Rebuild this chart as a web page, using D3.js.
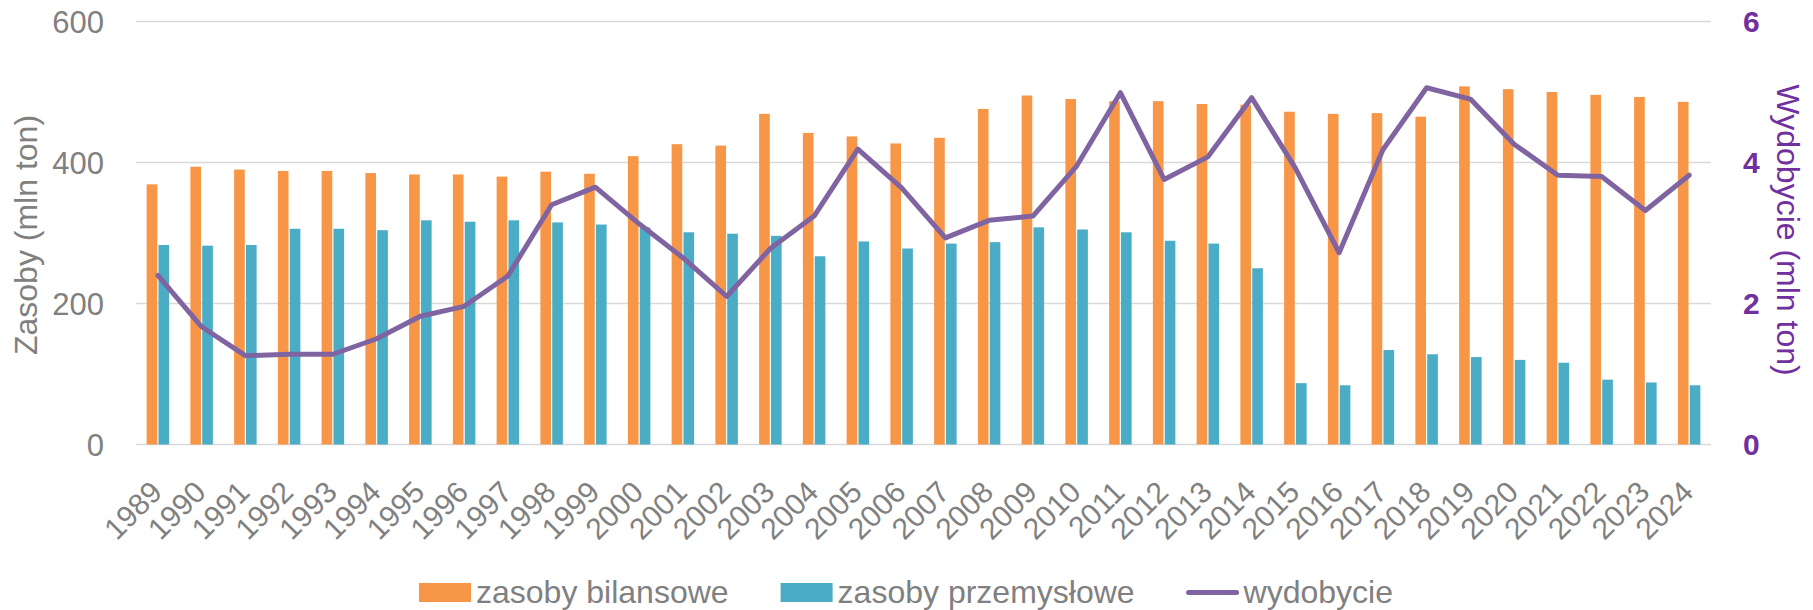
<!DOCTYPE html>
<html>
<head>
<meta charset="utf-8">
<title>Zasoby i wydobycie</title>
<style>
    body { margin: 0; background: #fff; }
    text { font-family: "Liberation Sans", Arial, sans-serif; }
</style>
</head>
<body>
<script src="https://cdn.jsdelivr.net/npm/d3@7"></script>
<script>
    // dane
    var years = ["1989","1990","1991","1992","1993","1994","1995","1996","1997","1998","1999",
                 "2000","2001","2002","2003","2004","2005","2006","2007","2008","2009","2010",
                 "2011","2012","2013","2014","2015","2016","2017","2018","2019","2020","2021",
                 "2022","2023","2024"];
    var bilansowe = [369,394,390,388,388,385,383,383,380,387,384,
                     409,426,424,469,442,437,427,435,476,495,490,
                     487,487,483,482,472,469,470,465,508,504,500,
                     496,493,486];
    var przemyslowe = [283,282,283,306,306,304,318,316,318,315,312,
                       308,301,299,296,267,288,278,285,287,308,305,
                       301,289,285,250,87,84,134,128,124,120,116,
                       92,88,84];
    var wydobycie = [2.40,1.67,1.26,1.28,1.28,1.50,1.82,1.96,2.39,3.40,3.65,
                     3.13,2.65,2.10,2.78,3.24,4.19,3.64,2.93,3.18,3.24,3.95,
                     4.99,3.76,4.08,4.92,3.92,2.72,4.18,5.06,4.90,4.26,3.82,
                     3.80,3.32,3.82];
    var leftTicks = [0,200,400,600];
    var rightTicks = [0,2,4,6];
    var seriesNames = ["zasoby bilansowe","zasoby przemysłowe","wydobycie"];

    var width = 1813, height = 610;
    var plotLeft = 136, plotRight = 1711, plotTop = 21.5, plotBottom = 444.5;
    var gray = "#808080", orange = "#F79646", blue = "#4BACC6",
        lineColor = "#8064A2", purple = "#7030A0";

    var svg = d3.select("body").append("svg")
        .attr("width", width)
        .attr("height", height);

    var x = d3.scaleBand().domain(years).range([plotLeft, plotRight]).padding(0);
    var xSub = d3.scaleBand().domain(["b","p"]).range([0, 22.5]).paddingInner(0.1);
    var yL = d3.scaleLinear().domain([0, 600]).range([plotBottom, plotTop]);
    var yR = d3.scaleLinear().domain([0, 6]).range([plotBottom, plotTop]);
    var off = (x.bandwidth() - 22.5) / 2;

    // siatka
    svg.selectAll("line.grid")
        .data(leftTicks)
        .enter()
        .append("line")
        .attr("x1", plotLeft).attr("x2", plotRight)
        .attr("y1", function(d){ return yL(d); })
        .attr("y2", function(d){ return yL(d); })
        .attr("stroke", "#d9d9d9")
        .attr("stroke-width", 1.5);

    // słupki
    svg.selectAll("rect.bil")
        .data(bilansowe)
        .enter()
        .append("rect")
        .attr("x", function(d,i){ return x(years[i]) + off + xSub("b"); })
        .attr("y", function(d){ return yL(d); })
        .attr("width", xSub.bandwidth())
        .attr("height", function(d){ return yL(0) - yL(d); })
        .attr("fill", orange);

    svg.selectAll("rect.prz")
        .data(przemyslowe)
        .enter()
        .append("rect")
        .attr("x", function(d,i){ return x(years[i]) + off + xSub("p"); })
        .attr("y", function(d){ return yL(d); })
        .attr("width", xSub.bandwidth())
        .attr("height", function(d){ return yL(0) - yL(d); })
        .attr("fill", blue);

    // linia wydobycia
    var line = d3.line()
        .x(function(d,i){ return x(years[i]) + x.bandwidth()/2; })
        .y(function(d){ return yR(d); });

    svg.append("path")
        .datum(wydobycie)
        .attr("d", line)
        .attr("fill", "none")
        .attr("stroke", lineColor)
        .attr("stroke-width", 5)
        .attr("stroke-linejoin", "round")
        .attr("stroke-linecap", "round");

    // oś lewa
    svg.selectAll("text.yl")
        .data(leftTicks)
        .enter()
        .append("text")
        .attr("x", 104)
        .attr("y", function(d){ return yL(d) + 11; })
        .attr("text-anchor", "end")
        .attr("font-size", 31)
        .attr("fill", gray)
        .text(function(d){ return d; });

    // oś prawa
    svg.selectAll("text.yr")
        .data(rightTicks)
        .enter()
        .append("text")
        .attr("x", 1743)
        .attr("y", function(d){ return yR(d) + 10.5; })
        .attr("font-size", 30)
        .attr("font-weight", "bold")
        .attr("fill", purple)
        .text(function(d){ return d; });

    // etykiety lat
    svg.selectAll("text.xl")
        .data(years)
        .enter()
        .append("text")
        .attr("transform", function(d){
            return "translate(" + (x(d) + x.bandwidth()/2 + 6) + ",494) rotate(-45)";
        })
        .attr("text-anchor", "end")
        .attr("font-size", 30)
        .attr("fill", gray)
        .text(function(d){ return d; });

    // tytuły osi
    svg.append("text")
        .attr("transform", "translate(37,235) rotate(-90)")
        .attr("text-anchor", "middle")
        .attr("font-size", 32)
        .attr("fill", gray)
        .text("Zasoby (mln ton)");

    svg.append("text")
        .attr("transform", "translate(1777,230) rotate(90)")
        .attr("text-anchor", "middle")
        .attr("font-size", 32)
        .attr("fill", purple)
        .text("Wydobycie (mln ton)");

    // legenda
    var lx = 419, ly = 592.5;
    var swatchColors = [orange, blue, lineColor];
    seriesNames.forEach(function(name, i){
        if (i < 2) {
            svg.append("rect")
                .attr("x", lx).attr("y", ly - 9.5)
                .attr("width", 52).attr("height", 19)
                .attr("fill", swatchColors[i]);
        } else {
            svg.append("line")
                .attr("x1", lx + 2).attr("x2", lx + 50)
                .attr("y1", ly).attr("y2", ly)
                .attr("stroke", lineColor)
                .attr("stroke-width", 5)
                .attr("stroke-linecap", "round");
        }
        var t = svg.append("text")
            .attr("x", lx + 57)
            .attr("y", ly + 10.5)
            .attr("font-size", 32)
            .attr("fill", gray)
            .text(name);
        lx = lx + 57 + t.node().getComputedTextLength() + 52;
    });
</script>
</body>
</html>
